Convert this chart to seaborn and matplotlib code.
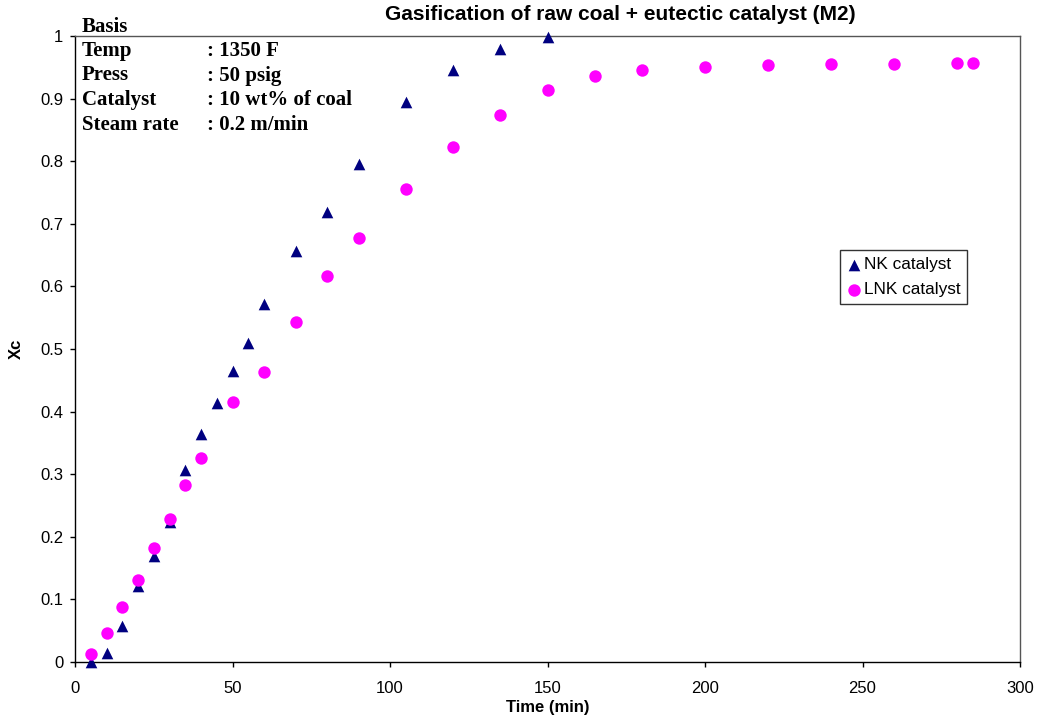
import matplotlib
matplotlib.use("Agg")
import matplotlib.pyplot as plt
import seaborn as sns
import pandas as pd

# Carbon conversion Xc versus time for two catalysts
nk_time = [5, 10, 15, 20, 25, 30, 35, 40, 45, 50, 55, 60, 70, 80, 90, 105, 120, 135, 150]
nk_xc = [0.0, 0.015, 0.058, 0.122, 0.169, 0.224, 0.306, 0.365, 0.413, 0.465, 0.510, 0.572,
         0.657, 0.719, 0.796, 0.895, 0.945, 0.979, 0.998]

lnk_time = [5, 10, 15, 20, 25, 30, 35, 40, 50, 60, 70, 80, 90, 105, 120, 135, 150,
            165, 180, 200, 220, 240, 260, 280, 285]
lnk_xc = [0.013, 0.046, 0.088, 0.131, 0.182, 0.228, 0.282, 0.326, 0.416, 0.463, 0.543,
          0.617, 0.677, 0.756, 0.822, 0.874, 0.913, 0.936, 0.946, 0.950, 0.953, 0.955,
          0.956, 0.957, 0.957]

series_names = ["NK catalyst", "LNK catalyst"]
x_ticks = [0, 50, 100, 150, 200, 250, 300]
y_ticks = [0, 0.1, 0.2, 0.3, 0.4, 0.5, 0.6, 0.7, 0.8, 0.9, 1]
y_tick_labels = ["0", "0.1", "0.2", "0.3", "0.4", "0.5", "0.6", "0.7", "0.8", "0.9", "1"]

basis_keys = ["Temp", "Press", "Catalyst", "Steam rate"]
basis_vals = [": 1350 F", ": 50 psig", ": 10 wt% of coal", ": 0.2 m/min"]

sns.set_theme(style="white")
plt.rcParams["font.family"] = ["Liberation Sans", "DejaVu Sans"]
for key in ["text.color", "axes.labelcolor", "xtick.color", "ytick.color"]:
    plt.rcParams[key] = "black"

df = pd.concat([
    pd.DataFrame({"Time": nk_time, "Xc": nk_xc, "Series": series_names[0]}),
    pd.DataFrame({"Time": lnk_time, "Xc": lnk_xc, "Series": series_names[1]}),
])

fig = plt.figure(figsize=(10.38, 7.23), dpi=100)
ax = fig.add_axes([75 / 1038, 61 / 723, 945 / 1038, 626 / 723])

palette = {series_names[0]: "#000080", series_names[1]: "#FF00FF"}
markers = {series_names[0]: "^", series_names[1]: "o"}
sizes = {series_names[0]: 70, series_names[1]: 80}

for name in series_names:
    sub = df[df["Series"] == name]
    sns.scatterplot(data=sub, x="Time", y="Xc", ax=ax, color=palette[name],
                    marker=markers[name], s=sizes[name], linewidth=0,
                    label=name, clip_on=False, zorder=3)

ax.set_xlim(0, 300)
ax.set_ylim(0, 1)
ax.set_xticks(x_ticks)
ax.set_yticks(y_ticks)
ax.set_yticklabels(y_tick_labels)
ax.tick_params(axis="both", which="major", direction="out", length=3.8, width=1,
               color="black", labelsize=12, pad=4.5, bottom=True, left=True)
ax.tick_params(axis="x", pad=10)

for side in ["left", "bottom", "top", "right"]:
    ax.spines[side].set_visible(True)
    ax.spines[side].set_color("black" if side in ("left", "bottom") else "#555555")
    ax.spines[side].set_linewidth(1)

ax.set_xlabel("Time (min)", fontsize=12, fontweight="bold", labelpad=3)
ax.set_ylabel("Xc", fontsize=12, fontweight="bold", labelpad=12)

fig.text(620 / 1038, 1 - 15 / 723, "Gasification of raw coal + eutectic catalyst (M2)",
         ha="center", va="center", fontsize=15, fontweight="bold")

# Operating conditions block
serif = ["Liberation Serif", "DejaVu Serif"]
fig.text(82 / 1038, 1 - 27 / 723, "Basis", ha="left", va="center", fontsize=15,
         fontweight="bold", family=serif)
for i, (k, v) in enumerate(zip(basis_keys, basis_vals)):
    yy = 1 - (51 + 24.5 * i) / 723
    fig.text(82 / 1038, yy, k, ha="left", va="center", fontsize=15,
             fontweight="bold", family=serif)
    fig.text(207 / 1038, yy, v, ha="left", va="center", fontsize=15,
             fontweight="bold", family=serif)

leg = ax.legend(loc="upper left", bbox_to_anchor=(0.809, 0.658), frameon=True,
                fancybox=False, fontsize=12.4, handletextpad=0.1, borderpad=0.4,
                labelspacing=0.6, handlelength=0.9, borderaxespad=0)
leg.get_frame().set_edgecolor("black")
leg.get_frame().set_linewidth(1)

fig.savefig("out.png", dpi=100)
